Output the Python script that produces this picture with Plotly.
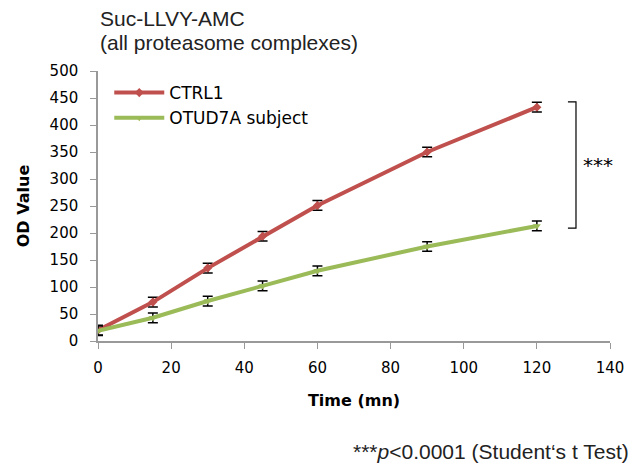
import plotly.graph_objects as go

time_mn = [0, 15, 30, 45, 60, 90, 120]
ctrl1 = [20, 72, 135, 194, 251, 350, 433]
otud7a = [19, 43, 74, 102, 130, 175, 213]
err_ctrl1 = [9, 9, 9, 9, 9, 9, 9]
err_otud7a = [9, 9, 9, 9, 9, 9, 9]

x_ticks = [0, 20, 40, 60, 80, 100, 120, 140]
y_ticks = [0, 50, 100, 150, 200, 250, 300, 350, 400, 450, 500]

fig = go.Figure()

fig.add_trace(go.Scatter(
    x=time_mn, y=ctrl1,
    mode='lines+markers',
    name='CTRL1',
    line=dict(color='#c0504d', width=4),
    marker=dict(symbol='diamond', size=7, color='#c0504d'),
    error_y=dict(type='data', array=err_ctrl1, color='black', thickness=1.5, width=5)
))
fig.add_trace(go.Scatter(
    x=time_mn, y=otud7a,
    mode='lines+markers',
    name='OTUD7A subject',
    line=dict(color='#9bbb59', width=4),
    marker=dict(symbol='triangle-down', size=7, color='#9bbb59'),
    error_y=dict(type='data', array=err_otud7a, color='black', thickness=1.5, width=5)
))

# significance bracket on the right
bx = 130.7
top = ctrl1[-1] + 10
bot = otud7a[-1] - 4
fig.add_shape(type='path', xref='x', yref='y',
              path=f'M 128.5 {top} L {bx} {top} L {bx} {bot} L 128.5 {bot}',
              line=dict(color='black', width=1.2))
fig.add_annotation(x=bx + 1.5, y=(top + bot) / 2, xref='x', yref='y', text='***',
                   showarrow=False, xanchor='left',
                   font=dict(family='DejaVu Sans', size=20, color='black'))

title_font = dict(family='Liberation Sans', size=21, color='#222')
fig.add_annotation(x=0.0, y=1.196, xref='paper', yref='paper', xanchor='left', yanchor='middle',
                   text='Suc-LLVY-AMC', showarrow=False, font=title_font)
fig.add_annotation(x=0.0, y=1.107, xref='paper', yref='paper', xanchor='left', yanchor='middle',
                   text='(all proteasome complexes)', showarrow=False, font=title_font)
fig.add_annotation(x=1.041, y=-0.41, xref='paper', yref='paper', xanchor='right', yanchor='middle',
                   text='***<i>p</i><0.0001 (Student‘s t Test)', showarrow=False, font=title_font)

fig.update_layout(
    width=644, height=471,
    paper_bgcolor='white', plot_bgcolor='white',
    margin=dict(l=98, r=34, t=71, b=130),
    font=dict(family='DejaVu Sans', size=15, color='black'),
    showlegend=True,
    legend=dict(x=0.022, y=0.985, xanchor='left', yanchor='top',
                bgcolor='rgba(0,0,0,0)', font=dict(size=17), tracegroupgap=0,
                itemwidth=50),
)
fig.update_xaxes(
    range=[0, 140], tickvals=x_ticks, showgrid=False, zeroline=False,
    showline=True, linecolor='#999', linewidth=1.5, ticks='outside', tickcolor='#999',
    ticklen=6, tickfont=dict(size=15), ticklabelstandoff=6,
    title=dict(text='<b>Time (mn)</b>', font=dict(size=16), standoff=19)
)
fig.update_yaxes(
    range=[0, 500], tickvals=y_ticks, showgrid=False, zeroline=False,
    showline=True, linecolor='#999', linewidth=1.5, ticks='outside', tickcolor='#999',
    ticklen=6, tickfont=dict(size=15), ticklabelstandoff=9,
    title=dict(text='<b>OD Value</b>', font=dict(size=16), standoff=16)
)

fig.write_html('out.html', config={'displayModeBar': False},
               post_script="document.body.style.margin='0';")
